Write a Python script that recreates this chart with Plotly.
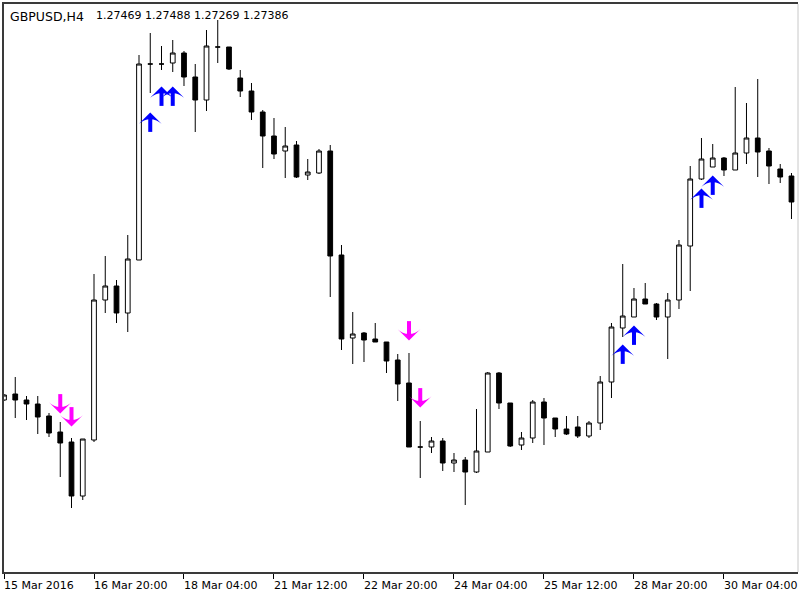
import plotly.graph_objects as go
import pandas as pd

symbol_title = "GBPUSD,H4"
header_values = ["1.27469", "1.27488", "1.27269", "1.27386"]

# H4 bar open times (weekdays only, 6 bars per day)
bar_days = ["2016-03-15"] + [d.strftime("%Y-%m-%d") for d in pd.bdate_range("2016-03-16", "2016-03-31")]
bar_times = []
for d in bar_days:
    for h in ["00:00", "04:00", "08:00", "12:00", "16:00", "20:00"]:
        t = f"{d} {h}"
        if "2016-03-15 12:00" <= t <= "2016-03-31 04:00":
            bar_times.append(t)

open_ = [1.4154, 1.4160, 1.4154, 1.4150, 1.4138, 1.4122, 1.4112, 1.4058, 1.4114, 1.4254,
         1.4268, 1.4241, 1.4294, 1.4490, 1.4490, 1.4491, 1.4501, 1.4477, 1.4454, 1.4507,
         1.4507, 1.4476, 1.4463, 1.4442, 1.4418, 1.4403, 1.4409, 1.4379, 1.4381, 1.4403,
         1.4299, 1.4216, 1.4221, 1.4215, 1.4212, 1.4194, 1.4171, 1.4107, 1.4107, 1.4113,
         1.4091, 1.4094, 1.4082, 1.4102, 1.4181, 1.4151, 1.4109, 1.4116, 1.4152, 1.4136,
         1.4125, 1.4127, 1.4118, 1.4131, 1.4172, 1.4226, 1.4237, 1.4255, 1.4250, 1.4237,
         1.4254, 1.4308, 1.4375, 1.4387, 1.4396, 1.4384, 1.4401, 1.4416, 1.4403, 1.4385,
         1.4378]
high = [1.4160, 1.4177, 1.4158, 1.4158, 1.4141, 1.4132, 1.4116, 1.4115, 1.4280, 1.4298,
        1.4274, 1.4319, 1.4499, 1.4521, 1.4508, 1.4514, 1.4503, 1.4490, 1.4524, 1.4534,
        1.4507, 1.4484, 1.4471, 1.4444, 1.4436, 1.4427, 1.4413, 1.4395, 1.4405, 1.4409,
        1.4309, 1.4242, 1.4222, 1.4231, 1.4212, 1.4200, 1.4201, 1.4133, 1.4117, 1.4116,
        1.4101, 1.4097, 1.4145, 1.4182, 1.4182, 1.4151, 1.4122, 1.4154, 1.4156, 1.4136,
        1.4138, 1.4138, 1.4133, 1.4178, 1.4231, 1.4290, 1.4266, 1.4271, 1.4251, 1.4261,
        1.4314, 1.4388, 1.4416, 1.4410, 1.4397, 1.4467, 1.4451, 1.4475, 1.4406, 1.4390,
        1.4381]
low = [1.4153, 1.4136, 1.4134, 1.4120, 1.4117, 1.4077, 1.4046, 1.4054, 1.4112, 1.4241,
       1.4231, 1.4222, 1.4294, 1.4461, 1.4484, 1.4482, 1.4468, 1.4422, 1.4443, 1.4491,
       1.4484, 1.4457, 1.4434, 1.4386, 1.4395, 1.4376, 1.4376, 1.4374, 1.4380, 1.4257,
       1.4204, 1.4190, 1.4192, 1.4212, 1.4181, 1.4153, 1.4107, 1.4076, 1.4101, 1.4083,
       1.4082, 1.4049, 1.4081, 1.4102, 1.4145, 1.4107, 1.4104, 1.4111, 1.4109, 1.4117,
       1.4119, 1.4116, 1.4116, 1.4124, 1.4156, 1.4217, 1.4237, 1.4250, 1.4234, 1.4195,
       1.4245, 1.4263, 1.4374, 1.4387, 1.4378, 1.4384, 1.4390, 1.4377, 1.4370, 1.4371,
       1.4335]
close = [1.4159, 1.4154, 1.4150, 1.4137, 1.4121, 1.4111, 1.4058, 1.4115, 1.4254, 1.4268,
         1.4241, 1.4295, 1.4490, 1.4490, 1.4490, 1.4501, 1.4477, 1.4454, 1.4508, 1.4507,
         1.4485, 1.4463, 1.4442, 1.4418, 1.4400, 1.4408, 1.4377, 1.4382, 1.4403, 1.4298,
         1.4215, 1.4220, 1.4214, 1.4212, 1.4193, 1.4170, 1.4107, 1.4107, 1.4113, 1.4091,
         1.4094, 1.4082, 1.4103, 1.4181, 1.4151, 1.4108, 1.4116, 1.4152, 1.4136, 1.4125,
         1.4120, 1.4118, 1.4131, 1.4172, 1.4227, 1.4238, 1.4255, 1.4250, 1.4237, 1.4254,
         1.4309, 1.4375, 1.4395, 1.4396, 1.4384, 1.4401, 1.4416, 1.4402, 1.4388, 1.4377,
         1.4352]

# indicator signals (arrow centre prices)
up_times = ["2016-03-17 16:00", "2016-03-17 20:00", "2016-03-18 00:00",
            "2016-03-28 16:00", "2016-03-28 20:00", "2016-03-29 20:00", "2016-03-30 00:00"]
up_prices = [1.4433, 1.4459, 1.4459, 1.4201, 1.4220, 1.4357, 1.4370]
down_times = ["2016-03-16 08:00", "2016-03-16 12:00", "2016-03-23 12:00", "2016-03-23 16:00"]
down_prices = [1.4149, 1.4136, 1.4222, 1.4155]

tick_times = ["2016-03-15 12:00", "2016-03-16 20:00", "2016-03-18 04:00", "2016-03-21 12:00",
              "2016-03-22 20:00", "2016-03-24 04:00", "2016-03-25 12:00", "2016-03-28 20:00",
              "2016-03-30 04:00"]
tick_labels = ["15 Mar 2016", "16 Mar 20:00", "18 Mar 04:00", "21 Mar 12:00", "22 Mar 20:00",
               "24 Mar 04:00", "25 Mar 12:00", "28 Mar 20:00", "30 Mar 04:00"]

idx = {t: i for i, t in enumerate(bar_times)}
xs = list(range(len(bar_times)))

Y_MIN, Y_MAX = 1.3982, 1.4550
PLOT_H = 568
px = (Y_MAX - Y_MIN) / PLOT_H  # price per pixel


def add_arrows(times, prices, color, up):
    sgn = 1 if up else -1
    xa = [idx[t] for t in times]
    # arrow stem
    fig.add_trace(go.Scatter(
        x=xa, y=[p - sgn * 2.5 * px for p in prices], mode="markers",
        marker=dict(symbol="line-ns-open", size=12, color=color,
                    line=dict(width=4, color=color)),
        hoverinfo="skip", showlegend=False, cliponaxis=False))
    # arrow head (tip at top for up arrows, bottom for down arrows)
    fig.add_trace(go.Scatter(
        x=xa, y=[p + sgn * 8.5 * px for p in prices], mode="markers",
        marker=dict(symbol="arrow-wide", size=16, color=color, angle=0 if up else 180,
                    line=dict(width=0)),
        hoverinfo="skip", showlegend=False, cliponaxis=False))


fig = go.Figure()
fig.add_trace(go.Candlestick(
    x=xs, open=open_, high=high, low=low, close=close,
    increasing=dict(line=dict(color="black", width=1), fillcolor="white"),
    decreasing=dict(line=dict(color="black", width=1), fillcolor="black"),
    whiskerwidth=0, hoverinfo="skip", showlegend=False,
))
add_arrows(up_times, up_prices, "#0000FF", True)
add_arrows(down_times, down_prices, "#FF00FF", False)

annotations = []
for t, lab in zip(tick_times, tick_labels):
    annotations.append(dict(x=idx[t], y=0, xref="x", yref="paper", text=lab, showarrow=False,
                            xanchor="left", yanchor="top", yshift=-5, xshift=-2,
                            font=dict(family="DejaVu Sans", size=11, color="black")))
annotations.append(dict(x=0, y=1, xref="paper", yref="paper", text=symbol_title, showarrow=False,
                        xanchor="left", yanchor="top", xshift=4, yshift=-3,
                        font=dict(family="DejaVu Sans", size=12.5, color="black")))
annotations.append(dict(x=0, y=1, xref="paper", yref="paper", text=" ".join(header_values),
                        showarrow=False, xanchor="left", yanchor="top", xshift=90, yshift=-3,
                        font=dict(family="DejaVu Sans", size=11, color="black")))

fig.update_layout(
    width=800, height=600,
    margin=dict(l=4, r=2, t=4, b=28),
    paper_bgcolor="white", plot_bgcolor="white",
    boxgap=0.4,
    xaxis=dict(range=[0, 70.58], rangeslider=dict(visible=False), showgrid=False, zeroline=False,
               showline=True, linecolor="#3a3a3a", linewidth=2, mirror=True,
               ticks="outside", ticklen=5, tickcolor="black", tickwidth=1,
               tickvals=[idx[t] for t in tick_times], showticklabels=False),
    yaxis=dict(range=[Y_MIN, Y_MAX], showgrid=False, zeroline=False,
               showline=True, linecolor="#3a3a3a", linewidth=2, mirror=False,
               showticklabels=False, ticks=""),
    shapes=[dict(type="line", xref="paper", yref="paper", x0=1, x1=1, y0=0, y1=1,
                 line=dict(color="#c8c8c8", width=1))],
    annotations=annotations,
    hovermode=False,
)

fig.write_html("out.html", config={"displayModeBar": False},
               post_script="document.body.style.margin='0';")
